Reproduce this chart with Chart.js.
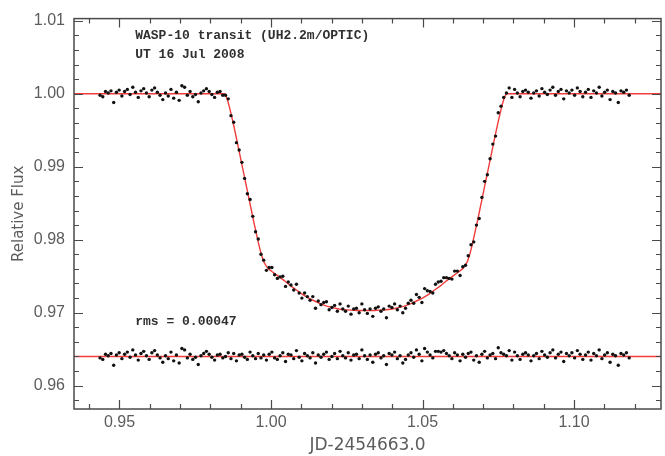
<!DOCTYPE html>
<html>
<head>
<meta charset="utf-8">
<script src="https://cdn.jsdelivr.net/npm/chart.js@4.4.0/dist/chart.umd.min.js"></script>
<style>
  html, body { margin: 0; padding: 0; background: #fff; }
  #wrap { width: 665px; height: 456px; }
</style>
</head>
<body>
<div id="wrap"><canvas id="lc" width="665" height="456"></canvas></div>
<script>
// time of each exposure (JD - 2454663.0)
const times = [
  0.9436, 0.9445, 0.9454, 0.9463, 0.9472, 0.9481, 0.9490, 0.9499, 0.9508, 0.9517,
  0.9526, 0.9535, 0.9544, 0.9553, 0.9562, 0.9571, 0.9580, 0.9589, 0.9598, 0.9607,
  0.9616, 0.9625, 0.9634, 0.9643, 0.9652, 0.9661, 0.9670, 0.9679, 0.9688, 0.9697,
  0.9706, 0.9715, 0.9724, 0.9733, 0.9742, 0.9751, 0.9760, 0.9769, 0.9778, 0.9787,
  0.9796, 0.9805, 0.9814, 0.9823, 0.9832, 0.9841, 0.9850, 0.9859, 0.9868, 0.9877,
  0.9886, 0.9895, 0.9904, 0.9913, 0.9922, 0.9931, 0.9940, 0.9949, 0.9958, 0.9967,
  0.9976, 0.9985, 0.9994, 1.0003, 1.0012, 1.0021, 1.0030, 1.0039, 1.0048, 1.0057,
  1.0066, 1.0075, 1.0084, 1.0093, 1.0102, 1.0111, 1.0120, 1.0129, 1.0138, 1.0147,
  1.0156, 1.0165, 1.0174, 1.0183, 1.0192, 1.0201, 1.0210, 1.0219, 1.0228, 1.0237,
  1.0246, 1.0255, 1.0264, 1.0273, 1.0282, 1.0291, 1.0300, 1.0309, 1.0318, 1.0327,
  1.0336, 1.0345, 1.0354, 1.0363, 1.0372, 1.0381, 1.0390, 1.0399, 1.0408, 1.0417,
  1.0426, 1.0435, 1.0444, 1.0453, 1.0462, 1.0471, 1.0480, 1.0489, 1.0498, 1.0507,
  1.0516, 1.0525, 1.0534, 1.0543, 1.0552, 1.0561, 1.0570, 1.0579, 1.0588, 1.0597,
  1.0606, 1.0615, 1.0624, 1.0633, 1.0642, 1.0651, 1.0660, 1.0669, 1.0678, 1.0687,
  1.0696, 1.0705, 1.0714, 1.0723, 1.0732, 1.0741, 1.0750, 1.0759, 1.0768, 1.0777,
  1.0786, 1.0795, 1.0804, 1.0813, 1.0822, 1.0831, 1.0840, 1.0849, 1.0858, 1.0867,
  1.0876, 1.0885, 1.0894, 1.0903, 1.0912, 1.0921, 1.0930, 1.0939, 1.0948, 1.0957,
  1.0966, 1.0975, 1.0984, 1.0993, 1.1002, 1.1011, 1.1020, 1.1029, 1.1038, 1.1047,
  1.1056, 1.1065, 1.1074, 1.1083, 1.1092, 1.1101, 1.1110, 1.1119, 1.1128, 1.1137,
  1.1146, 1.1155, 1.1164, 1.1173, 1.1182
];

const flux = [
  0.9998, 0.9996, 1.0003, 1.0001, 1.0004, 0.9988, 1.0002, 1.0005, 0.9997, 1.0003,
  1.0006, 0.9999, 1.0009, 1.0002, 0.9995, 1.0004, 1.0007, 1.0001, 0.9996, 1.0005,
  1.0008, 1.0002, 0.9998, 0.9992, 1.0001, 0.9997, 1.0006, 0.9994, 1.0002, 0.9991,
  1.0011, 1.0009, 0.9998, 1.0003, 0.9996, 0.9999, 0.9989, 1.0001, 1.0004, 1.0007,
  1.0003, 0.9999, 0.9995, 1.0002, 1.0003, 0.9998, 0.9998, 0.9993, 0.9970, 0.9961,
  0.9933, 0.9923, 0.9906, 0.9884, 0.9863, 0.9855, 0.9832, 0.9811, 0.9801, 0.9780,
  0.9772, 0.9758, 0.9762, 0.9762, 0.9752, 0.9747, 0.9749, 0.9750, 0.9736, 0.9742,
  0.9738, 0.9731, 0.9739, 0.9727, 0.9720, 0.9727, 0.9722, 0.9717, 0.9722, 0.9706,
  0.9716, 0.9711, 0.9714, 0.9715, 0.9704, 0.9707, 0.9710, 0.9702, 0.9712, 0.9705,
  0.9702, 0.9709, 0.9698, 0.9705, 0.9706, 0.9700, 0.9712, 0.9704, 0.9699, 0.9705,
  0.9695, 0.9706, 0.9708, 0.9702, 0.9705, 0.9693, 0.9709, 0.9707, 0.9712, 0.9704,
  0.9709, 0.9700, 0.9706, 0.9713, 0.9717, 0.9713, 0.9725, 0.9721, 0.9714, 0.9733,
  0.9730, 0.9729, 0.9727, 0.9739, 0.9742, 0.9743, 0.9748, 0.9748, 0.9747, 0.9746,
  0.9757, 0.9757, 0.9751, 0.9763, 0.9765, 0.9778, 0.9793, 0.9797, 0.9820, 0.9829,
  0.9858, 0.9880, 0.9889, 0.9911, 0.9931, 0.9942, 0.9974, 0.9983, 0.9995, 1.0001,
  1.0008, 0.9995, 1.0006, 1.0001, 0.9996, 1.0003, 1.0005, 1.0002, 0.9994, 1.0001,
  1.0004, 0.9997, 1.0007, 1.0002, 0.9999, 1.0005, 1.0009, 0.9998, 1.0003, 1.0006,
  0.9993, 1.0004, 1.0001, 1.0005, 0.9998, 1.0008, 1.0003, 0.9996, 1.0002, 1.0006,
  0.9995, 1.0004, 1.0001, 1.0009, 0.9997, 1.0002, 1.0005, 0.9992, 1.0003, 1.0001,
  0.9988, 1.0004, 1.0002, 1.0005, 0.9998
];

// residuals, shifted down to 0.964
const resid = [
  0.9638, 0.9636, 0.9643, 0.9641, 0.9644, 0.9628, 0.9642, 0.9645, 0.9637, 0.9643,
  0.9646, 0.9639, 0.9649, 0.9642, 0.9635, 0.9644, 0.9647, 0.9641, 0.9636, 0.9645,
  0.9648, 0.9642, 0.9638, 0.9632, 0.9641, 0.9637, 0.9646, 0.9634, 0.9642, 0.9631,
  0.9651, 0.9649, 0.9638, 0.9643, 0.9636, 0.9639, 0.9629, 0.9641, 0.9644, 0.9647,
  0.9643, 0.9639, 0.9635, 0.9642, 0.9643, 0.9638, 0.9640, 0.9645, 0.9637, 0.9644,
  0.9634, 0.9642, 0.9643, 0.9639, 0.9636, 0.9646, 0.9641, 0.9637, 0.9644, 0.9638,
  0.9642, 0.9635, 0.9643, 0.9646, 0.9638, 0.9636, 0.9641, 0.9645, 0.9633, 0.9643,
  0.9642, 0.9637, 0.9648, 0.9639, 0.9634, 0.9644, 0.9641, 0.9638, 0.9645, 0.9631,
  0.9642, 0.9639, 0.9643, 0.9646, 0.9636, 0.9640, 0.9644, 0.9637, 0.9647, 0.9641,
  0.9638, 0.9645, 0.9635, 0.9642, 0.9643, 0.9637, 0.9649, 0.9641, 0.9636, 0.9642,
  0.9632, 0.9643, 0.9645, 0.9638, 0.9641, 0.9629, 0.9644, 0.9642, 0.9646, 0.9637,
  0.9641, 0.9631, 0.9636, 0.9642, 0.9645, 0.9639, 0.9649, 0.9643, 0.9634, 0.9651,
  0.9646, 0.9642, 0.9638, 0.9647, 0.9647, 0.9646, 0.9648, 0.9644, 0.9641, 0.9637,
  0.9645, 0.9642, 0.9634, 0.9643, 0.9639, 0.9644, 0.9646, 0.9635, 0.9641, 0.9632,
  0.9643, 0.9647, 0.9638, 0.9642, 0.9644, 0.9637, 0.9652, 0.9645, 0.9643, 0.9641,
  0.9648, 0.9635, 0.9646, 0.9641, 0.9636, 0.9643, 0.9645, 0.9642, 0.9634, 0.9641,
  0.9644, 0.9637, 0.9647, 0.9642, 0.9639, 0.9645, 0.9649, 0.9638, 0.9643, 0.9646,
  0.9633, 0.9644, 0.9641, 0.9645, 0.9638, 0.9648, 0.9643, 0.9636, 0.9642, 0.9646,
  0.9635, 0.9644, 0.9641, 0.9649, 0.9637, 0.9642, 0.9645, 0.9632, 0.9643, 0.9641,
  0.9628, 0.9644, 0.9642, 0.9645, 0.9638
];

// transit model curve (red)
const modelTimes = [
  0.9300, 0.9848, 0.9856, 0.9864, 0.9872, 0.9880, 0.9888, 0.9896, 0.9904, 0.9912,
  0.9920, 0.9928, 0.9936, 0.9944, 0.9952, 0.9960, 0.9968, 0.9976, 0.9984, 0.9992,
  1.0004, 1.0024, 1.0044, 1.0064, 1.0084, 1.0104, 1.0124, 1.0144, 1.0164, 1.0184,
  1.0204, 1.0224, 1.0244, 1.0264, 1.0284, 1.0312, 1.0340, 1.0360, 1.0380, 1.0400,
  1.0420, 1.0440, 1.0460, 1.0480, 1.0500, 1.0520, 1.0540, 1.0560, 1.0580, 1.0600,
  1.0620, 1.0632, 1.0640, 1.0648, 1.0656, 1.0664, 1.0672, 1.0680, 1.0688, 1.0696,
  1.0704, 1.0712, 1.0720, 1.0728, 1.0736, 1.0744, 1.0752, 1.0760, 1.0768, 1.0776,
  1.1350
];
const modelFlux = [
  1.0000, 1.0000, 0.9992, 0.9980, 0.9966, 0.9951, 0.9935, 0.9919, 0.9903, 0.9887,
  0.9871, 0.9855, 0.9839, 0.9823, 0.9808, 0.9793, 0.9780, 0.9770, 0.9764, 0.9760,
  0.9756, 0.9750, 0.9744, 0.9737, 0.9731, 0.9725, 0.9720, 0.9716, 0.9712, 0.9709,
  0.9707, 0.9705, 0.9704, 0.97035, 0.9703, 0.9703, 0.9703, 0.97035, 0.9704, 0.9705,
  0.9707, 0.9709, 0.9712, 0.9716, 0.9720, 0.9725, 0.9731, 0.9737, 0.9744, 0.9750,
  0.9756, 0.9760, 0.9764, 0.9770, 0.9780, 0.9793, 0.9808, 0.9823, 0.9839, 0.9855,
  0.9871, 0.9887, 0.9903, 0.9919, 0.9935, 0.9951, 0.9966, 0.9980, 0.9992, 1.0000,
  1.0000
];

const residLevel = 0.964;
const xRange = [0.935, 1.1287];
const yRange = [0.9568, 1.0103];
const xTicks = [0.95, 1.00, 1.05, 1.10];
const yTicks = [0.96, 0.97, 0.98, 0.99, 1.00, 1.01];
const xTitle = 'JD-2454663.0';
const yTitle = 'Relative Flux';
const noteLines = ['WASP-10 transit (UH2.2m/OPTIC)', 'UT 16 Jul 2008'];
const rmsNote = 'rms = 0.00047';

const RED = '#f23c3c';
const AXIS = '#4a4a4a';
const LABEL = '#5c5c5c';

const fluxPts = times.map((t, i) => ({ x: t, y: flux[i] }));
const residPts = times.map((t, i) => ({ x: t, y: resid[i] }));
const modelPts = modelTimes.map((t, i) => ({ x: t, y: modelFlux[i] }));
const residLine = [{ x: 0.93, y: residLevel }, { x: 1.135, y: residLevel }];

// box frame with inward ticks on all four sides, plus the notes
const frameAndNotes = {
  id: 'frameAndNotes',
  afterDatasetsDraw(chart) {
    const { ctx, chartArea: a, scales } = chart;
    const xs = scales.x, ys = scales.y;
    ctx.save();
    ctx.strokeStyle = AXIS;
    ctx.lineWidth = 1.5;
    ctx.strokeRect(a.left, a.top, a.right - a.left, a.bottom - a.top);
    ctx.lineWidth = 1.2;
    ctx.beginPath();
    for (let k = 94; k <= 112; k++) {
      const px = Math.round(xs.getPixelForValue(k / 100)) + 0.5;
      const len = k % 5 === 0 ? 9 : 5;
      ctx.moveTo(px, a.bottom); ctx.lineTo(px, a.bottom - len);
      ctx.moveTo(px, a.top); ctx.lineTo(px, a.top + len);
    }
    for (let k = 479; k <= 505; k++) {
      const py = Math.round(ys.getPixelForValue(k / 500)) + 0.5;
      const len = k % 5 === 0 ? 9 : 5;
      ctx.moveTo(a.left, py); ctx.lineTo(a.left + len, py);
      ctx.moveTo(a.right, py); ctx.lineTo(a.right - len, py);
    }
    ctx.stroke();

    ctx.fillStyle = '#303030';
    ctx.font = 'bold 13px "Liberation Mono", monospace';
    ctx.textBaseline = 'middle';
    ctx.textAlign = 'left';
    const nx = xs.getPixelForValue(0.9552);
    ctx.fillText(noteLines[0], nx, ys.getPixelForValue(1.0080));
    ctx.fillText(noteLines[1], nx, ys.getPixelForValue(1.0053));
    ctx.fillText(rmsNote, nx, ys.getPixelForValue(0.9688));
    ctx.restore();
  }
};

new Chart(document.getElementById('lc'), {
  type: 'scatter',
  data: {
    datasets: [
      { data: fluxPts, backgroundColor: '#111', borderWidth: 0, pointRadius: 1.7, showLine: false },
      { data: residPts, backgroundColor: '#111', borderWidth: 0, pointRadius: 1.7, showLine: false },
      { type: 'line', data: modelPts, borderColor: RED, borderWidth: 1.4, pointRadius: 0, tension: 0, fill: false },
      { type: 'line', data: residLine, borderColor: RED, borderWidth: 1.4, pointRadius: 0, fill: false }
    ]
  },
  options: {
    responsive: false,
    animation: false,
    devicePixelRatio: 1,
    layout: { padding: { top: 15, right: 3, left: 0, bottom: 0 } },
    plugins: { legend: { display: false }, tooltip: { enabled: false } },
    scales: {
      x: {
        type: 'linear',
        min: xRange[0], max: xRange[1],
        afterBuildTicks: s => { s.ticks = xTicks.map(v => ({ value: v })); },
        afterFit: s => { s.height = 47; },
        grid: { display: false, drawTicks: false },
        border: { display: false },
        ticks: {
          padding: 4, color: LABEL,
          font: { family: '"Liberation Sans", Arial, sans-serif', size: 16 },
          callback: v => v.toFixed(2)
        },
        title: {
          display: true, text: xTitle, color: LABEL,
          font: { family: '"DejaVu Sans", sans-serif', size: 17 },
          padding: { top: 4, bottom: 0 }
        }
      },
      y: {
        type: 'linear',
        min: yRange[0], max: yRange[1],
        afterBuildTicks: s => { s.ticks = yTicks.map(v => ({ value: v })); },
        afterFit: s => { s.width = 74; },
        grid: { display: false, drawTicks: false },
        border: { display: false },
        ticks: {
          padding: 9, color: LABEL,
          font: { family: '"Liberation Sans", Arial, sans-serif', size: 16 },
          callback: v => v.toFixed(2)
        },
        title: {
          display: true, text: yTitle, color: LABEL,
          font: { family: '"DejaVu Sans", sans-serif', size: 15 },
          padding: { top: 10, bottom: 0 }
        }
      }
    }
  },
  plugins: [frameAndNotes]
});
</script>
</body>
</html>
